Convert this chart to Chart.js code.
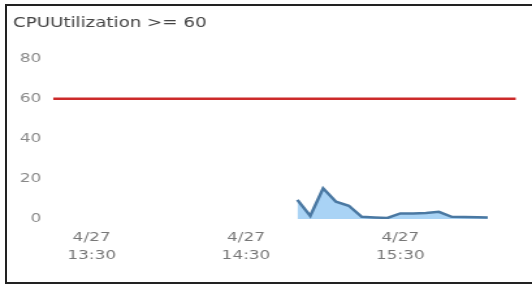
<!DOCTYPE html>
<html>
<head>
<meta charset="utf-8">
<script src="https://cdn.jsdelivr.net/npm/chart.js@4.4.0/dist/chart.umd.min.js"></script>
<style>
  body { margin: 0; background: #fff; overflow: hidden; }
  #wrap {
    position: absolute; left: 0; top: 0;
    width: 409px; height: 286px;
    transform: scaleX(1.3007); transform-origin: 0 0;
  }
  #frame {
    position: absolute; left: 5px; top: 4px;
    width: 600px; height: 276px;
    border: 2px solid #222; pointer-events: none;
  }
</style>
</head>
<body>
<div id="wrap"><canvas id="chart"></canvas></div>
<div id="frame"></div>
<script>
// series (5 minute samples)
const times = ['14:50', '14:55', '15:00', '15:05', '15:10', '15:15', '15:20', '15:25',
               '15:30', '15:35', '15:40', '15:45', '15:50', '15:55', '16:00', '16:04'];
const cpu = [9.5, 1.5, 15.3, 8.6, 6.6, 1.1, 0.8, 0.5,
             2.8, 2.7, 3.0, 3.6, 1.1, 1.0, 0.9, 0.8];

const threshold = 60;
const xRange = ['13:15', '16:15'];

const tickTimes = ['13:30', '14:30', '15:30'];
const tickDates = ['4/27', '4/27', '4/27'];
const yTicks = [0, 20, 40, 60, 80];

const toMin = s => {
  const [h, m] = s.split(':').map(Number);
  return h * 60 + m;
};

const xMin = toMin(xRange[0]);
const xMax = toMin(xRange[1]);

new Chart(document.getElementById('chart'), {
  type: 'line',
  data: {
    datasets: [
      {
        data: [{ x: xMin, y: threshold }, { x: xMax, y: threshold }],
        borderColor: '#cc2a2a',
        borderWidth: 2.5,
        pointRadius: 0,
        fill: false
      },
      {
        data: times.map((t, i) => ({ x: toMin(t), y: cpu[i] })),
        borderColor: '#4a78a2',
        borderWidth: 2.5,
        backgroundColor: '#a9d3f5',
        pointRadius: 0,
        tension: 0,
        fill: 'origin'
      }
    ]
  },
  options: {
    responsive: true,
    maintainAspectRatio: false,
    animation: false,
    layout: { padding: { left: 10, right: 12.3, top: 14.6, bottom: 0 } },
    plugins: {
      legend: { display: false },
      tooltip: { enabled: false },
      title: {
        display: true,
        text: 'CPUUtilization >= 60',
        align: 'start',
        color: '#444',
        font: { family: 'DejaVu Sans', size: 14, weight: 'normal' },
        padding: { top: 0, bottom: 27.1 }
      }
    },
    scales: {
      x: {
        type: 'linear',
        min: xMin,
        max: xMax,
        grid: { display: false, drawTicks: false },
        border: { display: false },
        afterBuildTicks: axis => {
          axis.ticks = tickTimes.map(t => ({ value: toMin(t) }));
        },
        afterFit: axis => { axis.height = 67; },
        ticks: {
          autoSkip: false,
          maxRotation: 0,
          padding: 10,
          color: '#777',
          font: { family: 'DejaVu Sans', size: 13, lineHeight: 1.35 },
          callback: v => {
            const i = tickTimes.findIndex(t => toMin(t) === v);
            return i >= 0 ? [tickDates[i], tickTimes[i]] : '';
          }
        }
      },
      y: {
        min: yTicks[0],
        max: yTicks[yTicks.length - 1],
        grid: { display: false, drawTicks: false },
        border: { display: false },
        afterBuildTicks: axis => {
          axis.ticks = yTicks.map(v => ({ value: v }));
        },
        afterFit: axis => { axis.width = 30.8; },
        ticks: {
          padding: 9,
          color: '#888',
          font: { family: 'DejaVu Sans', size: 13 }
        }
      }
    }
  }
});
</script>
</body>
</html>
